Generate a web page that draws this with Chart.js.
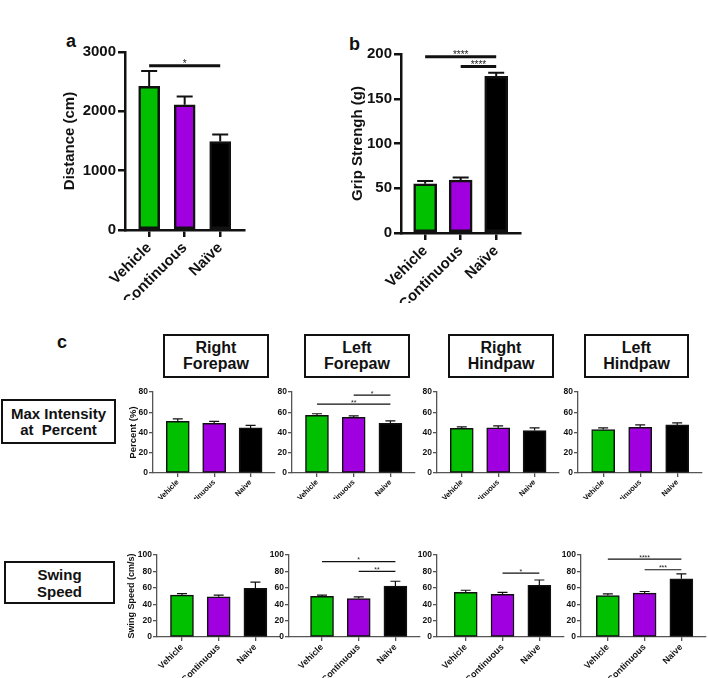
<!DOCTYPE html>
<html>
<head>
<meta charset="utf-8">
<script src="https://cdn.jsdelivr.net/npm/chart.js@4.4.1/dist/chart.umd.min.js"></script>
<style>
  body { margin: 0; background: #fff; width: 708px; height: 678px; position: relative; overflow: hidden; font-family: "Liberation Sans", Arial, sans-serif; color: #111; }
  .box { position: absolute; border: 2.5px solid #111; box-sizing: border-box; display: flex; align-items: center; justify-content: center; text-align: center; font-weight: bold; font-size: 16px; line-height: 16px; white-space: pre; }
  .tag { position: absolute; font-weight: bold; font-size: 18px; }
  .wrap { position: absolute; }
</style>
</head>
<body>
<div class="tag" style="left:66px;top:31px">a</div>
<div class="tag" style="left:349px;top:34px">b</div>
<div class="tag" style="left:57px;top:332px">c</div>

<div class="box" style="left:163px;top:334px;width:106px;height:44px">Right
Forepaw</div>
<div class="box" style="left:304px;top:334px;width:106px;height:44px">Left
Forepaw</div>
<div class="box" style="left:448px;top:334px;width:106px;height:44px">Right
Hindpaw</div>
<div class="box" style="left:584px;top:334px;width:105px;height:44px">Left
Hindpaw</div>
<div class="box" style="left:1px;top:399px;width:115px;height:45px;font-size:15px">Max Intensity
at  Percent</div>
<div class="box" style="left:4px;top:561px;width:111px;height:43px;font-size:15px;line-height:17px">Swing
Speed</div>

<script>
// groups and colours
const groups = ['Vehicle', 'Continuous', 'Naïve'];
const groupsSmall = ['Vehicle', 'Continuous', 'Naive'];
const colors = ['#00c000', '#a000e0', '#000000'];

// a: open field distance
const distance = [2420, 2110, 1490];
const distanceErr = [260, 140, 120];
const distanceTicks = [0, 1000, 2000, 3000];
const distanceSig = [[0, 2, 2770, '*']];

// b: grip strength
const grip = [55, 59, 175];
const gripErr = [3, 3, 4];
const gripTicks = [0, 50, 100, 150, 200];
const gripSig = [[0, 2, 197, '****'], [1, 2, 186, '****']];

// c: max intensity at percent
const percentTicks = [0, 20, 40, 60, 80];
const maxIntRF = [51, 49, 44.5];
const maxIntRFErr = [2.5, 2, 2.5];
const maxIntLF = [57, 55, 49];
const maxIntLFErr = [1.5, 1.5, 2.5];
const maxIntLFSig = [[1, 2, 77, '*'], [0, 2, 68, '**']];
const maxIntRH = [44, 44.5, 42];
const maxIntRHErr = [1.5, 2, 2.5];
const maxIntLH = [43, 45, 47.5];
const maxIntLHErr = [1.5, 2.5, 2];

// c: swing speed
const speedTicks = [0, 20, 40, 60, 80, 100];
const swingRF = [51, 49, 59.5];
const swingRFErr = [2, 2, 7.5];
const swingLF = [49.5, 47, 62];
const swingLFErr = [1.5, 2, 6];
const swingLFSig = [[0, 2, 92, '*'], [1, 2, 80, '**']];
const swingRH = [54.5, 52, 63];
const swingRHErr = [2.5, 2.5, 6.5];
const swingRHSig = [[1, 2, 78, '*']];
const swingLH = [50.5, 53.5, 71];
const swingLHErr = [2, 2, 6];
const swingLHSig = [[0, 2, 95, '****'], [1, 2, 82, '***']];

const FONT = '"Liberation Sans", Arial, sans-serif';

function makeChart(c) {
  const [l, t, r, b] = c.area;
  const w = r - l + c.yw + c.padR;
  const h = b - t + c.padT + c.xh;
  const wrap = document.createElement('div');
  wrap.className = 'wrap';
  wrap.style.left = (l - c.yw) + 'px';
  wrap.style.top = (t - c.padT) + 'px';
  const cv = document.createElement('canvas');
  cv.width = w; cv.height = h;
  cv.style.width = w + 'px'; cv.style.height = h + 'px';
  wrap.appendChild(cv);
  document.body.appendChild(wrap);

  const big = c.big;
  const axisCol = big ? '#111' : '#555';
  const axisW = big ? 2.5 : 1.3;

  // error whiskers + significance bars
  const extras = {
    id: 'extras',
    afterDatasetsDraw(chart) {
      const { ctx, scales: { x, y } } = chart;
      ctx.save();
      ctx.strokeStyle = '#111';
      ctx.lineWidth = big ? 2 : 1.2;
      c.errs.forEach((e, i) => {
        const px = x.getPixelForValue(i);
        const y0 = y.getPixelForValue(c.values[i]);
        const y1 = y.getPixelForValue(c.values[i] + e);
        ctx.beginPath();
        ctx.moveTo(px, y0); ctx.lineTo(px, y1);
        ctx.moveTo(px - c.cap, y1); ctx.lineTo(px + c.cap, y1);
        ctx.stroke();
      });
      ctx.lineWidth = big ? 3 : 1.2;
      ctx.fillStyle = '#222';
      ctx.textAlign = 'center';
      ctx.textBaseline = 'alphabetic';
      ctx.font = (big ? '10px ' : '7px ') + FONT;
      (c.sig || []).forEach(([a, bb, v, txt]) => {
        const py = y.getPixelForValue(v);
        const x0 = x.getPixelForValue(a), x1 = x.getPixelForValue(bb);
        ctx.beginPath();
        ctx.moveTo(x0, py); ctx.lineTo(x1, py);
        ctx.stroke();
        ctx.fillText(txt, (x0 + x1) / 2, py + (big ? 1 : 0.5));
      });
      ctx.restore();
    }
  };

  new Chart(cv, {
    type: 'bar',
    data: {
      datasets: [{
        data: c.values.map((v, i) => ({ x: i, y: v })),
        backgroundColor: colors,
        borderColor: '#111',
        borderWidth: big ? 2.5 : 1.5,
        borderSkipped: false,
        barThickness: c.bar
      }]
    },
    options: {
      responsive: false,
      animation: false,
      layout: { padding: { top: c.padT, right: c.padR, left: 0, bottom: 0 } },
      plugins: { legend: { display: false }, tooltip: { enabled: false } },
      scales: {
        x: {
          type: 'linear',
          offset: false,
          min: c.lo !== undefined ? c.lo : -0.68,
          max: c.hi !== undefined ? c.hi : 2.67,
          afterBuildTicks: s => { s.ticks = c.labels.map((_, i) => ({ value: i })); },
          afterFit: s => { s.height = c.xh; },
          ticks: {
            callback: v => c.labels[v],
            autoSkip: false,
            minRotation: 45, maxRotation: 45,
            padding: big ? 2 : 1,
            color: '#111',
            font: { family: FONT, size: c.xFont, weight: 'bold' }
          },
          grid: { offset: false, drawOnChartArea: false, drawTicks: true, tickLength: big ? 7 : 4, color: axisCol, lineWidth: axisW },
          border: { color: axisCol, width: axisW }
        },
        y: {
          min: 0,
          max: c.ticks[c.ticks.length - 1],
          afterBuildTicks: s => { s.ticks = c.ticks.map(v => ({ value: v })); },
          afterFit: s => { s.width = c.yw; },
          ticks: {
            callback: v => String(v),
            padding: big ? 2 : 1,
            color: '#111',
            font: { family: FONT, size: c.yFont, weight: 'bold' }
          },
          grid: { drawOnChartArea: false, drawTicks: true, tickLength: big ? 7 : 4, color: axisCol, lineWidth: axisW },
          border: { color: axisCol, width: axisW },
          title: {
            display: !!c.yTitle,
            text: c.yTitle || '',
            color: '#111',
            padding: { top: big ? 4 : 2, bottom: 0 },
            font: { family: FONT, size: c.titleFont || 10, weight: 'bold' }
          }
        }
      }
    },
    plugins: [extras]
  });
}

const bigBase = { big: true, labels: groups, padT: 14, padR: 10, xh: 70, bar: 21, cap: 8, xFont: 15, yFont: 15, titleFont: 15 };
makeChart(Object.assign({}, bigBase, { area: [125, 52, 244, 230], yw: 68, values: distance, errs: distanceErr, ticks: distanceTicks, sig: distanceSig, yTitle: 'Distance (cm)' }));
makeChart(Object.assign({}, bigBase, { area: [401, 54, 520, 233], yw: 56, bar: 23, values: grip, errs: gripErr, ticks: gripTicks, sig: gripSig, yTitle: 'Grip Strengh (g)' }));

const row1 = { big: false, labels: groupsSmall, padT: 8, padR: 4, xh: 26, bar: 23, cap: 5, xFont: 7.5, yFont: 8.5, ticks: percentTicks };
makeChart(Object.assign({}, row1, { area: [153, 392, 275, 473], yw: 27, values: maxIntRF, errs: maxIntRFErr, yTitle: 'Percent (%)', titleFont: 9.5 }));
makeChart(Object.assign({}, row1, { area: [292, 392, 415, 473], yw: 25, values: maxIntLF, errs: maxIntLFErr, sig: maxIntLFSig }));
makeChart(Object.assign({}, row1, { area: [437, 392, 559, 473], yw: 25, values: maxIntRH, errs: maxIntRHErr }));
makeChart(Object.assign({}, row1, { area: [578, 392, 702, 473], yw: 25, values: maxIntLH, errs: maxIntLHErr }));

const row2 = { big: false, labels: groupsSmall, padT: 8, padR: 1, xh: 41, bar: 23, cap: 5, xFont: 9, yFont: 8.5, ticks: speedTicks };
makeChart(Object.assign({}, row2, { area: [157, 555, 280, 637], yw: 33, values: swingRF, errs: swingRFErr, yTitle: 'Swing Speed (cm/s)', titleFont: 9 }));
makeChart(Object.assign({}, row2, { area: [289, 555, 420, 637], yw: 25, lo: -0.9, values: swingLF, errs: swingLFErr, sig: swingLFSig }));
makeChart(Object.assign({}, row2, { area: [437, 555, 564, 637], yw: 25, lo: -0.78, values: swingRH, errs: swingRHErr, sig: swingRHSig }));
makeChart(Object.assign({}, row2, { area: [581, 555, 706, 637], yw: 25, lo: -0.73, values: swingLH, errs: swingLHErr, sig: swingLHSig }));
</script>
</body>
</html>
